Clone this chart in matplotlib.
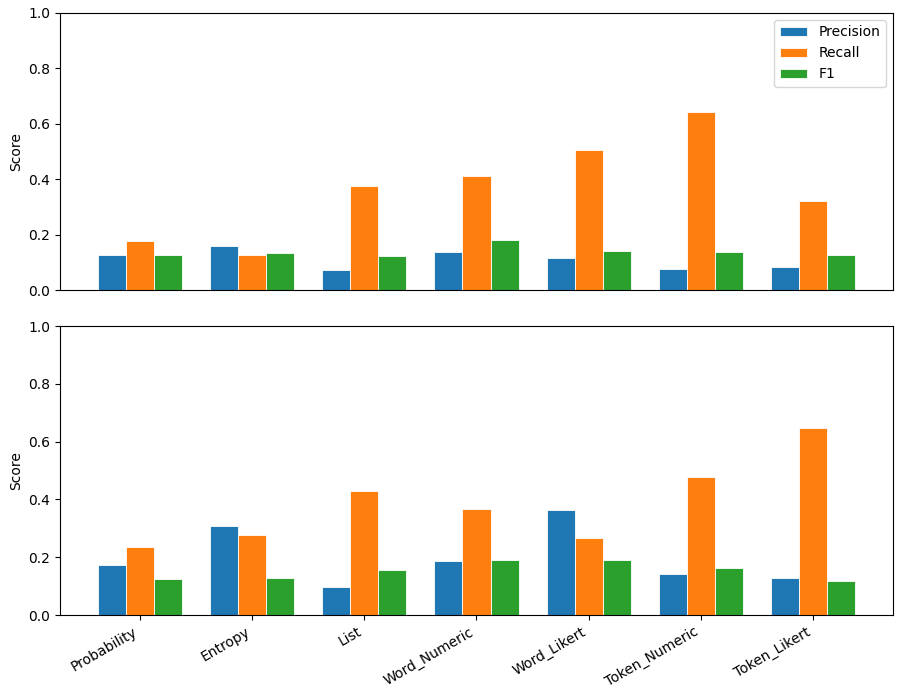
import numpy as np
import matplotlib
matplotlib.use("Agg")
import matplotlib.pyplot as plt

categories = ["Probability", "Entropy", "List", "Word_Numeric", "Word_Likert", "Token_Numeric", "Token_Likert"]

top_precision = [0.126, 0.159, 0.074, 0.139, 0.117, 0.077, 0.083]
top_recall    = [0.177, 0.127, 0.374, 0.413, 0.505, 0.644, 0.320]
top_f1        = [0.125, 0.135, 0.124, 0.182, 0.142, 0.137, 0.126]

bot_precision = [0.173, 0.307, 0.098, 0.188, 0.365, 0.143, 0.127]
bot_recall    = [0.234, 0.278, 0.429, 0.366, 0.268, 0.476, 0.646]
bot_f1        = [0.124, 0.127, 0.157, 0.189, 0.192, 0.162, 0.116]

series_names = ["Precision", "Recall", "F1"]
colors = ["#1f77b4", "#ff7f0e", "#2ca02c"]

fig = plt.figure(figsize=(9.01, 6.95), dpi=100)
ax1 = fig.add_axes([0.0666, 0.5827, 0.9245, 0.3986])
ax2 = fig.add_axes([0.0666, 0.1151, 0.9245, 0.4158])

x = np.arange(len(categories))
w = 0.25

def draw(ax, data):
    for i, (vals, name, c) in enumerate(zip(data, series_names, colors)):
        ax.bar(x + (i - 1) * w, vals, w, label=name, color=c, edgecolor="white", linewidth=0.6)
    ax.set_ylim(0, 1.0)
    ax.set_ylabel("Score")
    ax.set_xticks(x)

draw(ax1, [top_precision, top_recall, top_f1])
draw(ax2, [bot_precision, bot_recall, bot_f1])

ax1.tick_params(axis="x", which="both", bottom=False, labelbottom=False)
ax1.legend(loc="upper right")
ax2.set_xticklabels(categories, rotation=30, ha="right")

fig.savefig("out.png", dpi=100)
